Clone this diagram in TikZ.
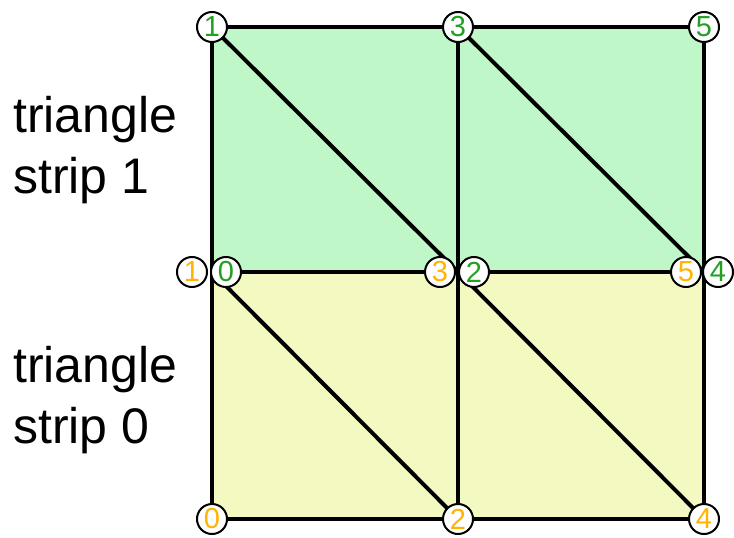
\documentclass[tikz,border=0pt]{standalone}
\usepackage{fontspec}
\setmainfont{Liberation Sans}
\definecolor{gfill}{HTML}{C0F7C8}
\definecolor{yfill}{HTML}{F3F9C0}
\definecolor{gtext}{HTML}{22A022}
\definecolor{ytext}{HTML}{FFB400}
\tikzset{
  edge/.style={line width=4pt, black},
  vlab/.style={circle, draw=black, line width=2pt, fill=white, minimum size=30pt, inner sep=0pt, font=\fontsize{29}{29}\selectfont},
  gl/.style={vlab, text=gtext},
  yl/.style={vlab, text=ytext},
  caption/.style={anchor=base west, align=left, inner sep=0pt, font=\fontsize{50}{61}\selectfont}
}
\begin{document}
\begin{tikzpicture}[x=1pt,y=-1pt]
\useasboundingbox (0,0) rectangle (734,538);
% grid corners
\coordinate (A0) at (212,27);
\coordinate (A1) at (458,27);
\coordinate (A2) at (704,27);
\coordinate (B0) at (212,272);
\coordinate (B1) at (458,272);
\coordinate (B2) at (704,272);
\coordinate (C0) at (212,519);
\coordinate (C1) at (458,519);
\coordinate (C2) at (704,519);
% fills
\fill[gfill] (A0) rectangle (B2);
\fill[yfill] (B0) rectangle (C2);
% edges
\draw[edge] (A0) -- (A2) -- (C2) -- (C0) -- cycle;
\draw[edge] (B0) -- (B2);
\draw[edge] (A1) -- (C1);
\draw[edge] (A0) -- (B1);
\draw[edge] (A1) -- (B2);
\draw[edge] (B0) -- (C1);
\draw[edge] (B1) -- (C2);
% captions
\node[caption] (cap1) at (13,193) {triangle\\strip 1};
\node[caption] (cap0) at (13,443) {triangle\\strip 0};
% vertex labels, strip 1
\node[gl] (g1) at (A0) {1};
\node[gl] (g3) at (A1) {3};
\node[gl] (g5) at (A2) {5};
\node[gl] (g0) at (226,272) {0};
\node[gl] (g2) at (474,272) {2};
\node[gl] (g4) at (718,272) {4};
% vertex labels, strip 0
\node[yl] (y1) at (192,272) {1};
\node[yl] (y3) at (440,272) {3};
\node[yl] (y5) at (686,272) {5};
\node[yl] (y0) at (C0) {0};
\node[yl] (y2) at (C1) {2};
\node[yl] (y4) at (C2) {4};
\end{tikzpicture}
\end{document}
